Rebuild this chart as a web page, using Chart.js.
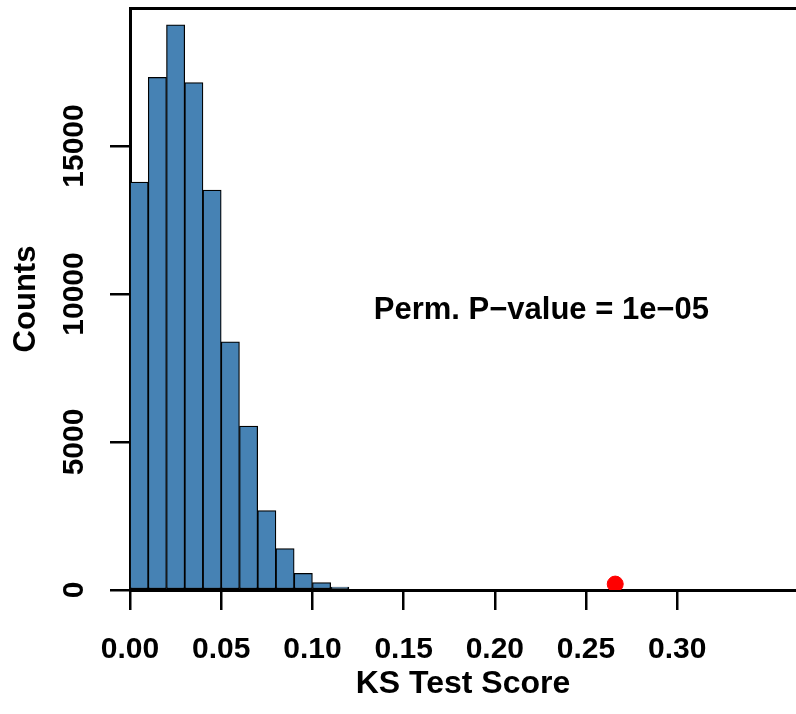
<!DOCTYPE html>
<html>
<head>
<meta charset="utf-8">
<script src="https://cdn.jsdelivr.net/npm/chart.js@4"></script>
<style>
  body { margin: 0; background: #fff; }
  #wrap { width: 796px; height: 714px; }
</style>
</head>
<body>
<div id="wrap"><canvas id="ksChart" width="796" height="714"></canvas></div>
<script>
// histogram of permuted KS scores, bins of width 0.01
const binStarts = [0.00, 0.01, 0.02, 0.03, 0.04, 0.05, 0.06, 0.07, 0.08, 0.09, 0.10, 0.11];
const binCounts = [13780, 17320, 19090, 17140, 13510, 8380, 5540, 2680, 1400, 560, 250, 100];
const binWidth = 0.01;

// observed score
const observedScore = [0.266];
const observedY = [200];

const xTicks = [0.00, 0.05, 0.10, 0.15, 0.20, 0.25, 0.30];
const yTicks = [0, 5000, 10000, 15000];

const noteText = "Perm. P\u2212value = 1e\u221205";
const noteAt = { x: 0.2255, y: 9450 };

const fontFamily = "'Liberation Sans', Arial, sans-serif";

const noteLabel = {
    id: "noteLabel",
    afterDatasetsDraw(chart) {
        const ctx = chart.ctx;
        const px = chart.scales.x.getPixelForValue(noteAt.x);
        const py = chart.scales.y.getPixelForValue(noteAt.y);
        ctx.save();
        ctx.font = "bold 31px " + fontFamily;
        ctx.fillStyle = "#000";
        ctx.textAlign = "center";
        ctx.textBaseline = "middle";
        ctx.fillText(noteText, px, py);
        ctx.restore();
    }
};

// keep the plot box flush with the margins
function noPadding(s) {
    s.paddingLeft = 0;
    s.paddingRight = 0;
    s.paddingTop = 0;
    s.paddingBottom = 0;
}

const ctx = document.getElementById("ksChart").getContext("2d");

new Chart(ctx, {
    data: {
        datasets: [{
            type: "bar",
            data: binStarts.map((b, i) => ({ x: b + binWidth / 2, y: binCounts[i] })),
            backgroundColor: "#4682B4",
            borderColor: "#000",
            borderWidth: 1.25,
            borderSkipped: false,
            barPercentage: 1,
            categoryPercentage: 1
        }, {
            type: "scatter",
            data: observedScore.map((s, i) => ({ x: s, y: observedY[i] })),
            backgroundColor: "#ff0000",
            borderColor: "#ff0000",
            pointRadius: 8,
            pointHoverRadius: 8
        }]
    },
    options: {
        responsive: false,
        animation: false,
        events: [],
        layout: { padding: 0, autoPadding: false },
        plugins: {
            legend: { display: false },
            tooltip: { enabled: false }
        },
        scales: {
            x: {
                type: "linear",
                position: "bottom",
                min: 0,
                max: 0.3651,
                offset: false,
                afterBuildTicks: s => { s.ticks = xTicks.map(v => ({ value: v })); },
                afterFit: s => { s.height = 124; noPadding(s); },
                ticks: {
                    color: "#000",
                    font: { family: fontFamily, size: 30, weight: "bold" },
                    padding: 22,
                    maxRotation: 0,
                    autoSkip: false,
                    callback: v => v.toFixed(2)
                },
                grid: {
                    offset: false,
                    drawOnChartArea: false,
                    drawTicks: true,
                    tickLength: 20,
                    lineWidth: 2.5,
                    color: "#000"
                },
                border: { display: true, color: "#000", width: 3 },
                title: {
                    display: true,
                    text: "KS Test Score",
                    color: "#000",
                    font: { family: fontFamily, size: 32, weight: "bold" },
                    padding: { top: 0, bottom: 11 }
                }
            },
            xTop: {
                type: "linear",
                position: "top",
                min: 0,
                max: 1,
                afterFit: s => { s.height = 8; noPadding(s); },
                ticks: { display: false },
                grid: { display: false, drawTicks: false },
                border: { display: true, color: "#000", width: 3 }
            },
            y: {
                type: "linear",
                position: "left",
                min: 0,
                max: 19662,
                afterBuildTicks: s => { s.ticks = yTicks.map(v => ({ value: v })); },
                afterFit: s => { s.width = 130; noPadding(s); },
                ticks: {
                    color: "#000",
                    font: { family: fontFamily, size: 30, weight: "bold" },
                    minRotation: 90,
                    maxRotation: 90,
                    crossAlign: "center",
                    padding: -6,
                    autoSkip: false,
                    callback: v => String(v)
                },
                grid: {
                    drawOnChartArea: false,
                    drawTicks: true,
                    tickLength: 20,
                    lineWidth: 2.5,
                    color: "#000"
                },
                border: { display: true, color: "#000", width: 3 },
                title: {
                    display: true,
                    text: "Counts",
                    color: "#000",
                    font: { family: fontFamily, size: 31, weight: "bold" },
                    padding: { top: 8, bottom: 0 }
                }
            }
        }
    },
    plugins: [noteLabel]
});
</script>
</body>
</html>
